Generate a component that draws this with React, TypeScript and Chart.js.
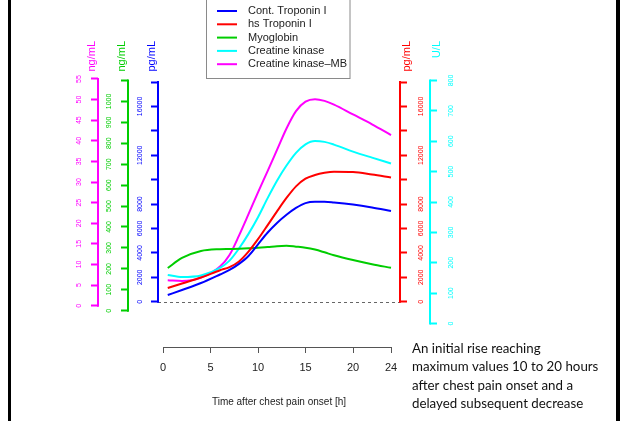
import React, { useEffect, useRef } from 'react';
import { Chart, registerables } from 'chart.js';

Chart.register(...registerables);

// ---------------- data ----------------
const hours = [0.5, 2, 4, 6, 7, 8, 9, 10, 11, 12, 13, 14, 15, 16, 17, 18, 20, 22, 24];
const contTroponinI = [550, 960, 1530, 2230, 2600, 3100, 3750, 4700, 5650, 6450, 7120, 7680, 8080, 8190, 8190, 8130, 7960, 7720, 7430];
const hsTroponinI = [1120, 1490, 1980, 2580, 2830, 3300, 4100, 5120, 6250, 7400, 8500, 9450, 10080, 10380, 10560, 10650, 10620, 10420, 10180];
const myoglobin = [204, 252, 285, 294, 295, 296, 298, 301, 304, 308, 310, 306, 301, 292, 279, 265, 242, 222, 205];
const creatineKinase = [160, 153, 158, 183, 207, 247, 295, 350, 412, 470, 520, 562, 590, 601, 598, 589, 566, 546, 527];
const creatineKinaseMB = [6.2, 6.0, 6.8, 9.5, 12.3, 17.0, 22.2, 27.5, 32.6, 37.8, 43.0, 47.2, 49.5, 50.1, 49.7, 48.8, 46.4, 44.0, 41.4];

const seriesLabels = ['Cont. Troponin I', 'hs Troponin I', 'Myoglobin', 'Creatine kinase', 'Creatine kinase–MB'];

const hourTicks = [0, 5, 10, 15, 20, 24];
const ckmbTicks = [0, 5, 10, 15, 20, 25, 30, 35, 40, 45, 50, 55];
const myoTicks = [0, 100, 200, 300, 400, 500, 600, 700, 800, 900, 1000, 1100];
const myoLabelled = [0, 100, 200, 300, 400, 500, 600, 700, 800, 900, 1000];
const pgTicks = [0, 2000, 4000, 6000, 8000, 10000, 12000, 14000, 16000, 18000];
const pgLabelled = [0, 2000, 4000, 6000, 8000, 12000, 16000];
const ckTicks = [0, 100, 200, 300, 400, 500, 600, 700, 800];

const unitNg = 'ng/mL';
const unitPg = 'pg/mL';
const unitU = 'U/L';
const xTitle = 'Time after chest pain onset [h]';
const noteLines = [
  'An initial rise reaching',
  'maximum values 10 to 20 hours',
  'after chest pain onset and a',
  'delayed subsequent decrease',
];

// ---------------- styling / layout ----------------
const FONT = "'Liberation Sans', Arial, sans-serif";
const MAGENTA = '#FF00FF';
const GREEN = '#00CD00';
const BLUE = '#0000FF';
const RED = '#FF0000';
const CYAN = '#00FFFF';

const W = 625;
const H = 421;
const AREA_TOP = 30;
const AREA_BOTTOM = 347;
const AREA_LEFT = 158;
const AREA_RIGHT = 400;
const TICK_LEN = 7;
const TICK_FONT = 7;

function vRange(v0: number, p0: number, v1: number, p1: number) {
  const s = (v1 - v0) / (p0 - p1);
  return { min: v0 - (AREA_BOTTOM - p0) * s, max: v1 + (p1 - AREA_TOP) * s };
}
function hRange(v0: number, p0: number, v1: number, p1: number) {
  const s = (v1 - v0) / (p1 - p0);
  return { min: v0 - (p0 - AREA_LEFT) * s, max: v1 + (AREA_RIGHT - p1) * s };
}

function labelPadding(labels: number[], offset: number) {
  const c = document.createElement('canvas').getContext('2d')!;
  c.font = `${TICK_FONT}px ${FONT}`;
  const widest = Math.max(...labels.map((v) => c.measureText(String(v)).width));
  return offset - TICK_LEN - widest / 2;
}

type AxisDef = {
  id: string;
  color: string;
  position: 'left' | 'right';
  weight: number;
  width: number;
  range: { min: number; max: number };
  ticks: number[];
  labelled: number[];
  labelOffset: number;
  title: string;
  titleOffset: number;
};

function makeAxisDefs(): AxisDef[] {
  return [
    { id: 'yCKMB', color: MAGENTA, position: 'left', weight: 3, width: 98, range: vRange(0, 305.7, 55, 79), ticks: ckmbTicks, labelled: ckmbTicks, labelOffset: 19, title: unitNg, titleOffset: 6 },
    { id: 'yMyo', color: GREEN, position: 'left', weight: 2, width: 30, range: vRange(0, 310.7, 1100, 80.5), ticks: myoTicks, labelled: myoLabelled, labelOffset: 18.5, title: unitNg, titleOffset: 6 },
    { id: 'yCTnI', color: BLUE, position: 'left', weight: 1, width: 30, range: vRange(0, 301.7, 18000, 82), ticks: pgTicks, labelled: pgLabelled, labelOffset: 18, title: unitPg, titleOffset: 6 },
    { id: 'yHsTnI', color: RED, position: 'right', weight: 1, width: 30, range: vRange(0, 301.7, 18000, 82), ticks: pgTicks, labelled: pgLabelled, labelOffset: 21.5, title: unitPg, titleOffset: 7 },
    { id: 'yCK', color: CYAN, position: 'right', weight: 2, width: 60, range: vRange(0, 323.5, 800, 80.5), ticks: ckTicks, labelled: ckTicks, labelOffset: 21.3, title: unitU, titleOffset: 7 },
  ];
}

function yScale(d: AxisDef) {
  return {
    type: 'linear',
    position: d.position,
    weight: d.weight,
    min: d.range.min,
    max: d.range.max,
    afterBuildTicks: (s: any) => {
      s.ticks = d.ticks.map((v) => ({ value: v }));
    },
    afterFit: (s: any) => {
      s.width = d.width;
    },
    grid: {
      drawOnChartArea: false,
      drawTicks: true,
      tickLength: TICK_LEN,
      tickColor: d.color,
      tickWidth: 2,
      color: d.color,
    },
    border: { display: false },
    ticks: {
      autoSkip: false,
      color: d.color,
      font: { family: FONT, size: TICK_FONT },
      minRotation: 90,
      maxRotation: 90,
      crossAlign: 'center',
      padding: labelPadding(d.labelled, d.labelOffset),
      callback: (v: any) => (d.labelled.includes(Number(v)) ? String(v) : ''),
    },
  };
}

export default function App() {
  const ref = useRef<HTMLCanvasElement>(null);

  useEffect(() => {
    document.body.style.margin = '0';
    const axisDefs = makeAxisDefs();
    const xr = hRange(0, 163, 24, 391);

    const scales: any = {
      x: {
        type: 'linear',
        position: 'bottom',
        min: xr.min,
        max: xr.max,
        afterBuildTicks: (s: any) => {
          s.ticks = hourTicks.map((v) => ({ value: v }));
        },
        afterFit: (s: any) => {
          s.height = H - AREA_BOTTOM;
        },
        grid: { drawOnChartArea: false, drawTicks: true, tickLength: 6, tickColor: '#555', tickWidth: 1 },
        border: { display: false },
        ticks: {
          autoSkip: false,
          minRotation: 0,
          maxRotation: 0,
          color: '#222',
          font: { family: FONT, size: 11 },
          padding: 8.5,
          callback: (v: any) => String(v),
        },
        title: {
          display: true,
          text: xTitle,
          color: '#222',
          font: { family: FONT, size: 10 },
          padding: { top: 0, bottom: 13 },
        },
      },
    };
    axisDefs.forEach((d) => {
      scales[d.id] = yScale(d);
    });

    const seriesValues = [contTroponinI, hsTroponinI, myoglobin, creatineKinase, creatineKinaseMB];
    const seriesColors = [BLUE, RED, GREEN, CYAN, MAGENTA];
    const seriesAxes = ['yCTnI', 'yHsTnI', 'yMyo', 'yCK', 'yCKMB'];

    const datasets = seriesValues.map((vals, i) => ({
      label: seriesLabels[i],
      data: hours.map((h, j) => ({ x: h, y: vals[j] })),
      yAxisID: seriesAxes[i],
      xAxisID: 'x',
      borderColor: seriesColors[i],
      backgroundColor: seriesColors[i],
      borderWidth: 2,
      pointRadius: 0,
      fill: false,
      cubicInterpolationMode: 'monotone',
    }));

    const decor = {
      id: 'decor',
      beforeDraw(chart: any) {
        const ctx = chart.ctx;
        ctx.save();
        ctx.fillStyle = '#ffffff';
        ctx.fillRect(0, 0, W, H);
        ctx.fillStyle = '#000000';
        ctx.fillRect(8, 0, 3, H);
        ctx.fillRect(616, 0, 4, H);
        ctx.restore();
      },
      beforeDatasetsDraw(chart: any) {
        const ctx = chart.ctx;
        const s = chart.scales.yCTnI;
        const y = Math.round(s.getPixelForValue(0)) + 0.5;
        ctx.save();
        ctx.strokeStyle = '#666';
        ctx.lineWidth = 1;
        ctx.setLineDash([3, 3]);
        ctx.beginPath();
        ctx.moveTo(chart.chartArea.left, y);
        ctx.lineTo(chart.chartArea.right, y);
        ctx.stroke();
        ctx.restore();
      },
      afterDraw(chart: any) {
        const ctx = chart.ctx;
        // y axis lines + unit titles
        axisDefs.forEach((d) => {
          const s = chart.scales[d.id];
          const x = d.position === 'left' ? Math.round(s.right) : Math.round(s.left);
          const yTop = s.getPixelForValue(d.ticks[d.ticks.length - 1]);
          const yBot = s.getPixelForValue(d.ticks[0]);
          ctx.save();
          ctx.strokeStyle = d.color;
          ctx.lineWidth = 2;
          ctx.beginPath();
          ctx.moveTo(x, yTop - 1);
          ctx.lineTo(x, yBot + 1);
          ctx.stroke();
          ctx.translate(d.position === 'left' ? x - d.titleOffset : x + d.titleOffset, 41);
          ctx.rotate(-Math.PI / 2);
          ctx.textAlign = 'right';
          ctx.textBaseline = 'middle';
          ctx.font = `11px ${FONT}`;
          ctx.fillStyle = d.color;
          ctx.fillText(d.title, 0, 0);
          ctx.restore();
        });
        // x axis line
        const xs = chart.scales.x;
        const xy = Math.round(xs.top) + 0.5;
        ctx.save();
        ctx.strokeStyle = '#555';
        ctx.lineWidth = 1;
        ctx.beginPath();
        ctx.moveTo(xs.getPixelForValue(hourTicks[0]), xy);
        ctx.lineTo(xs.getPixelForValue(hourTicks[hourTicks.length - 1]), xy);
        ctx.stroke();
        ctx.restore();
        // legend
        ctx.save();
        ctx.fillStyle = '#ffffff';
        ctx.fillRect(206, -5, 144, 83);
        ctx.strokeStyle = '#8a8a8a';
        ctx.lineWidth = 1;
        ctx.strokeRect(206.5, -5, 143.5, 83.5);
        chart.data.datasets.forEach((ds: any, i: number) => {
          const y = 11 + i * 13.3;
          ctx.strokeStyle = ds.borderColor;
          ctx.lineWidth = 2;
          ctx.beginPath();
          ctx.moveTo(217, y);
          ctx.lineTo(237, y);
          ctx.stroke();
          ctx.fillStyle = '#222';
          ctx.font = `11px ${FONT}`;
          ctx.textAlign = 'left';
          ctx.textBaseline = 'middle';
          ctx.fillText(ds.label, 248, y);
        });
        ctx.restore();
        // note text
        ctx.save();
        ctx.fillStyle = '#111';
        ctx.font = "13.3px Lato, 'Open Sans', sans-serif";
        ctx.textAlign = 'left';
        ctx.textBaseline = 'middle';
        noteLines.forEach((line, i) => {
          ctx.fillText(line, 412, 348.5 + i * 18.5);
        });
        ctx.restore();
      },
    };

    const chart = new Chart(ref.current!, {
      type: 'line',
      data: { datasets } as any,
      options: {
        responsive: false,
        animation: false,
        devicePixelRatio: 1,
        layout: {
          autoPadding: false,
          padding: { left: 0, right: W - AREA_RIGHT - 90, top: AREA_TOP, bottom: 0 },
        },
        plugins: {
          legend: { display: false },
          tooltip: { enabled: false },
          title: { display: false },
        },
        scales,
      } as any,
      plugins: [decor],
    });
    return () => chart.destroy();
  }, []);

  return <canvas ref={ref} width={W} height={H} style={{ display: 'block' }} />;
}
